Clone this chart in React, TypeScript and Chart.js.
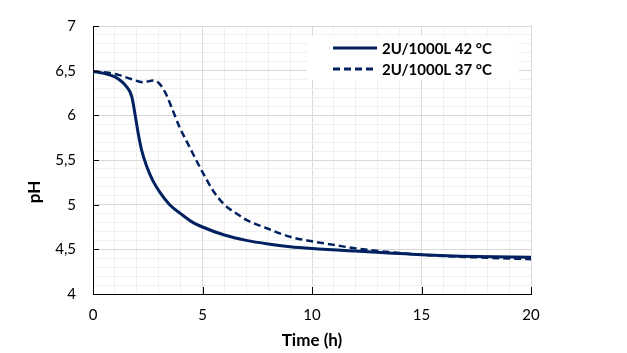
import { useEffect, useRef } from "react";
import { Chart, registerables } from "chart.js";

Chart.register(...registerables);

const SERIES_LABELS = ["2U/1000L 42 °C", "2U/1000L 37 °C"];
const TIME_42 = [0, 0.5, 1, 1.25, 1.5, 1.77, 1.92, 2.07, 2.22, 2.45, 2.75, 3.05, 3.5, 4, 4.5, 5, 6, 7, 8, 9, 10, 12, 15, 17.5, 20];
const PH_42 = [6.49, 6.47, 6.43, 6.39, 6.33, 6.21, 6.01, 5.79, 5.61, 5.43, 5.26, 5.14, 5.0, 4.9, 4.81, 4.75, 4.66, 4.6, 4.56, 4.53, 4.51, 4.48, 4.44, 4.42, 4.41];
const TIME_37 = [0, 0.6, 1.2, 1.7, 2.3, 2.75, 3.05, 3.35, 3.65, 3.95, 4.4, 4.75, 5.1, 5.5, 6.0, 6.55, 7, 8, 9, 10, 11, 12, 15, 17.5, 20];
const PH_37 = [6.49, 6.48, 6.45, 6.41, 6.37, 6.39, 6.35, 6.23, 6.05, 5.87, 5.65, 5.48, 5.32, 5.15, 5.0, 4.9, 4.83, 4.73, 4.64, 4.59, 4.55, 4.51, 4.44, 4.41, 4.39];
const X_MAJOR = [0, 5, 10, 15, 20];
const Y_MAJOR = [4, 4.5, 5, 5.5, 6, 6.5, 7];
const X_TITLE = "Time (h)";
const Y_TITLE = "pH";

const FONT = "Lato, 'Open Sans', sans-serif";
const LINE_COLOR = "#002060";
const DASH = [7, 4];

const innerTicks = {
  id: "innerTicks",
  afterDraw(chart: any) {
    const { ctx, chartArea, scales } = chart;
    ctx.save();
    ctx.strokeStyle = "#000";
    ctx.lineWidth = 1;
    for (const v of X_MAJOR) {
      const px = Math.round(scales.x.getPixelForValue(v)) + 0.5;
      ctx.beginPath();
      ctx.moveTo(px, chartArea.bottom);
      ctx.lineTo(px, chartArea.bottom - 7);
      ctx.stroke();
    }
    for (const v of Y_MAJOR) {
      const py = Math.round(scales.y.getPixelForValue(v)) + 0.5;
      ctx.beginPath();
      ctx.moveTo(chartArea.left, py);
      ctx.lineTo(chartArea.left + 6, py);
      ctx.stroke();
    }
    // y-axis title
    ctx.fillStyle = "#000";
    ctx.font = `bold 17px ${FONT}`;
    ctx.translate(chartArea.left - 58, chartArea.top + 166);
    ctx.rotate(-Math.PI / 2);
    ctx.textAlign = "center";
    ctx.textBaseline = "middle";
    ctx.fillText(Y_TITLE, 0, 0);
    ctx.restore();
  },
};

const boxLegend = {
  id: "boxLegend",
  afterDraw(chart: any) {
    const { ctx, chartArea } = chart;
    const bx = chartArea.right - 224;
    const by = chartArea.top + 10;
    ctx.save();
    ctx.fillStyle = "#fff";
    ctx.fillRect(bx, by, 212, 44);
    chart.data.datasets.forEach((ds: any, i: number) => {
      const y = by + 12 + i * 21;
      ctx.strokeStyle = ds.borderColor;
      ctx.lineWidth = 3;
      ctx.setLineDash(ds.borderDash || []);
      ctx.beginPath();
      ctx.moveTo(bx + 26, y);
      ctx.lineTo(bx + 70, y);
      ctx.stroke();
      ctx.setLineDash([]);
      ctx.fillStyle = "#000";
      ctx.font = `bold 15px ${FONT}`;
      ctx.textAlign = "left";
      ctx.textBaseline = "middle";
      ctx.fillText(ds.label, bx + 75, y + 1);
    });
    ctx.restore();
  },
};

export default function App() {
  const ref = useRef<HTMLCanvasElement>(null);
  useEffect(() => {
    if (!ref.current) return;
    const chart = new Chart(ref.current, {
      type: "line",
      data: {
        datasets: [
          {
            label: SERIES_LABELS[0],
            data: TIME_42.map((t, i) => ({ x: t, y: PH_42[i] })),
            borderColor: LINE_COLOR,
            borderWidth: 3,
            pointRadius: 0,
            tension: 0.4,
            cubicInterpolationMode: "monotone",
            fill: false,
          },
          {
            label: SERIES_LABELS[1],
            data: TIME_37.map((t, i) => ({ x: t, y: PH_37[i] })),
            borderColor: LINE_COLOR,
            borderWidth: 2.5,
            borderDash: DASH,
            pointRadius: 0,
            tension: 0.4,
            cubicInterpolationMode: "monotone",
            fill: false,
          },
        ],
      },
      options: {
        animation: false,
        responsive: false,
        layout: { padding: { left: 0, top: 19, right: 96, bottom: 0 } },
        plugins: {
          legend: { display: false },
          tooltip: { enabled: false },
        },
        scales: {
          x: {
            type: "linear",
            min: 0,
            max: 20,
            afterFit(scale: any) {
              scale.height = 59;
            },
            ticks: {
              stepSize: 1,
              autoSkip: false,
              maxTicksLimit: 100,
              maxRotation: 0,
              padding: 12,
              color: "#000",
              font: { family: FONT, size: 15 },
              callback: (v: any) => (Math.round(Number(v)) % 5 === 0 ? String(Math.round(Number(v))) : ""),
            },
            grid: {
              drawTicks: false,
              color: (c: any) => (c.tick && Math.round(c.tick.value) % 5 === 0 ? "#d9d9d9" : "#f0f0f0"),
            },
            border: { display: true, color: "#000", width: 1 },
            title: {
              display: true,
              text: X_TITLE,
              color: "#000",
              font: { family: FONT, size: 17, weight: "bold" },
              padding: { top: 0, bottom: 2 },
            },
          },
          y: {
            type: "linear",
            min: 4,
            max: 7,
            afterFit(scale: any) {
              scale.width = 93;
            },
            ticks: {
              stepSize: 0.1,
              autoSkip: false,
              maxTicksLimit: 100,
              padding: 17,
              color: "#000",
              font: { family: FONT, size: 15 },
              callback: (v: any) => {
                const t = Math.round(Number(v) * 10);
                return t % 5 === 0 ? String(t / 10).replace(".", ",") : "";
              },
            },
            grid: {
              drawTicks: false,
              color: (c: any) => (c.tick && Math.round(c.tick.value * 10) % 5 === 0 ? "#d9d9d9" : "#f0f0f0"),
            },
            border: { display: true, color: "#000", width: 1 },
          },
        },
      },
      plugins: [innerTicks, boxLegend],
    } as any);
    return () => chart.destroy();
  }, []);
  return (
    <div style={{ position: "fixed", left: 0, top: 0, width: 627, height: 353, background: "#fff" }}>
      <canvas ref={ref} width={627} height={353} />
    </div>
  );
}
